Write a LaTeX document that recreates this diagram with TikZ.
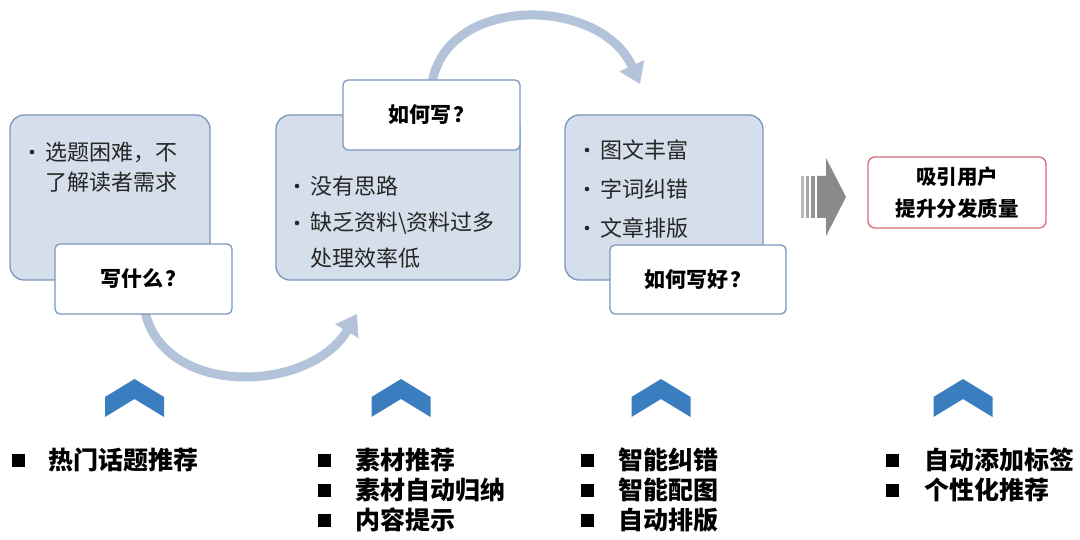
\documentclass[tikz,border=0pt]{standalone}
\usepackage{fontspec}
\setmainfont{Noto Sans CJK SC}
\usetikzlibrary{arrows.meta,calc}
\definecolor{boxfill}{HTML}{D5DEEB}
\definecolor{boxline}{HTML}{7C97BB}
\definecolor{arcblue}{HTML}{B2C3DA}
\definecolor{chev}{HTML}{3B7EBF}
\definecolor{grayarr}{HTML}{8A8A8A}
\definecolor{redline}{HTML}{D46A78}
\definecolor{txt}{HTML}{262626}
\tikzset{
  bigbox/.style={draw=boxline, line width=1.3pt, fill=boxfill, rounded corners=14pt, inner sep=0pt},
  labbox/.style={draw=boxline, line width=1.3pt, fill=white, rounded corners=5pt, inner sep=0pt, font=\fontsize{21}{24}\selectfont\bfseries, text=black},
  item/.style={anchor=west, inner sep=0pt, font=\fontsize{22}{26}\selectfont, text=txt},
  bul/.style={circle, fill=txt, inner sep=0pt, minimum size=4.6pt},
  litem/.style={anchor=west, inner sep=0pt, font=\fontsize{25}{28}\selectfont\bfseries, text=black},
  sq/.style={fill=black, minimum size=13pt, inner sep=0pt},
  arcarrow/.style={draw=arcblue, line width=9pt, -{Triangle[width=26pt,length=20pt]}},
  chevron/.style={fill=chev, draw=none},
}
\newcommand{\qm}{\hspace{2pt}？}
\begin{document}
\begin{tikzpicture}[x=1pt,y=-1pt]
\useasboundingbox (0,0) rectangle (1080,540);
\fill[white] (0,0) rectangle (1080,540);

% big boxes
\node[bigbox, minimum width=200pt, minimum height=165pt] (b1) at (110,197.5) {};
\node[bigbox, minimum width=244pt, minimum height=165pt] (b2) at (398,197.5) {};
\node[bigbox, minimum width=198pt, minimum height=165pt] (b3) at (664,197.5) {};

% curved arrows
\coordinate (a1s) at (145,312);
\coordinate (a1e) at (357,314);
\draw[arcarrow] (a1s) .. controls (165,398) and (310,393) .. (a1e);
\coordinate (a2s) at (432,84);
\coordinate (a2e) at (640,84);
\draw[arcarrow] (a2s) .. controls (445,-5) and (600,-5) .. (a2e);

% label boxes
\node[labbox, minimum width=177pt, minimum height=70pt] (l1) at (143.5,279) {写什么\qm};
\node[labbox, minimum width=177pt, minimum height=70pt] (l2) at (431.5,115) {如何写\qm};
\node[labbox, minimum width=176pt, minimum height=69pt] (l3) at (698,279.5) {如何写好\qm};

% box 1 text
\node[bul] (p1) at (32,152) {};
\node[item] (t1a) at (45,152) {选题困难，不};
\node[item] (t1b) at (45,182) {了解读者需求};
% box 2 text
\node[bul] (p2a) at (297,186) {};
\node[item] (t2a) at (310,186) {没有思路};
\node[bul] (p2b) at (297,223) {};
\node[item] (t2b) at (310,223) {缺乏资料\textbackslash 资料过多};
\node[item] (t2c) at (310,258) {处理效率低};
% box 3 text
\node[bul] (p3a) at (587,150) {};
\node[item] (t3a) at (600,150) {图文丰富};
\node[bul] (p3b) at (587,189) {};
\node[item] (t3b) at (600,189) {字词纠错};
\node[bul] (p3c) at (587,228) {};
\node[item] (t3c) at (600,228) {文章排版};

% gray block arrow
\fill[grayarr!60] (801,176) rectangle (803.5,218);
\fill[grayarr!75] (806,176) rectangle (809,218);
\fill[grayarr!90] (811,176) rectangle (814.5,218);
\fill[grayarr] (817,176) -- (826,176) -- (826,158) -- (846,197) -- (826,236) -- (826,218) -- (817,218) -- cycle;

% result box
\node[draw=redline, line width=1.3pt, fill=white, rounded corners=7pt, minimum width=178pt, minimum height=71pt, inner sep=0pt,
  align=center, font=\fontsize{20.5}{32}\selectfont\bfseries] (res) at (957,192.5) {吸引用户\\提升分发质量};

% chevrons
\foreach \cx/\nm in {134.5/c1, 401/c2, 661/c3, 963/c4}{
  \fill[chevron] (\cx-29.5,417) -- (\cx-29.5,397) -- (\cx,379) -- (\cx+29.5,397) -- (\cx+29.5,417) -- (\cx,399) -- cycle;
}

% bottom lists
\node[sq] (s1a) at (18,460) {};
\node[litem] (u1a) at (48,460) {热门话题推荐};

\node[sq] (s2a) at (324,460) {};
\node[litem] (u2a) at (355,460) {素材推荐};
\node[sq] (s2b) at (324,490) {};
\node[litem] (u2b) at (355,490) {素材自动归纳};
\node[sq] (s2c) at (324,520) {};
\node[litem] (u2c) at (355,520) {内容提示};

\node[sq] (s3a) at (587,460) {};
\node[litem] (u3a) at (618,460) {智能纠错};
\node[sq] (s3b) at (587,490) {};
\node[litem] (u3b) at (618,490) {智能配图};
\node[sq] (s3c) at (587,520) {};
\node[litem] (u3c) at (618,520) {自动排版};

\node[sq] (s4a) at (892,460) {};
\node[litem] (u4a) at (924,460) {自动添加标签};
\node[sq] (s4b) at (892,490) {};
\node[litem] (u4b) at (924,490) {个性化推荐};
\end{tikzpicture}
\end{document}
